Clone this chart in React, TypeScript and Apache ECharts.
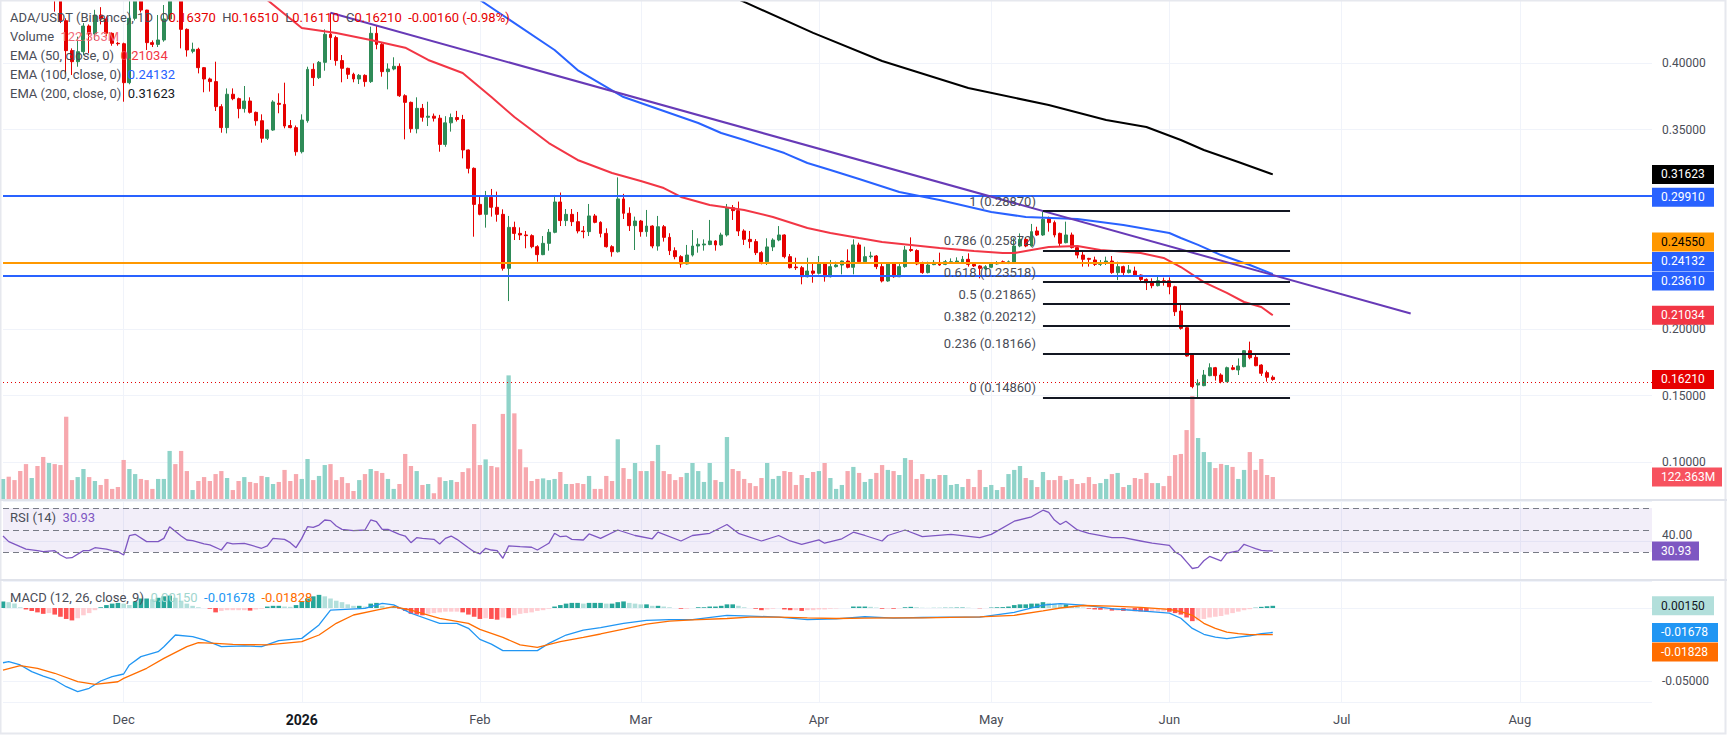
import { useEffect, useRef } from 'react';
import * as echarts from 'echarts';

// ---------- axis domain ----------
const START_UTC = Date.UTC(2025, 10, 10);
const DAY_COUNT = 288;
const CATEGORIES: string[] = Array.from({ length: DAY_COUNT }, (_, i) =>
  new Date(START_UTC + i * 86400000).toISOString().slice(0, 10)
);
const MONTH_TICKS: Record<string, string> = {
  '2025-12-01': 'Dec', '2026-01-01': '2026', '2026-02-01': 'Feb', '2026-03-01': 'Mar',
  '2026-04-01': 'Apr', '2026-05-01': 'May', '2026-06-01': 'Jun', '2026-07-01': 'Jul', '2026-08-01': 'Aug',
};

// ---------- daily candles from 2025-11-10: [open, high, low, close] ----------
const OHLC: number[][] = [
  [0.565, 0.595, 0.560, 0.585], [0.585, 0.595, 0.550, 0.555], [0.555, 0.562, 0.528, 0.535], [0.535, 0.545, 0.495, 0.505],
  [0.505, 0.515, 0.480, 0.490], [0.490, 0.510, 0.484, 0.500], [0.500, 0.505, 0.472, 0.480], [0.480, 0.488, 0.455, 0.465],
  [0.465, 0.480, 0.458, 0.472], [0.472, 0.478, 0.4386, 0.460], [0.460, 0.465, 0.4300, 0.4318], [0.4318, 0.4336, 0.3915, 0.4093],
  [0.4093, 0.4110, 0.3910, 0.4010], [0.4010, 0.4198, 0.3972, 0.4085], [0.4085, 0.4300, 0.4060, 0.4278], [0.4278, 0.4290, 0.4073, 0.4218],
  [0.4218, 0.4400, 0.4173, 0.4361], [0.4361, 0.4420, 0.4290, 0.4331], [0.4331, 0.4350, 0.4200, 0.4223], [0.4223, 0.4230, 0.4130, 0.4148],
  [0.4148, 0.4160, 0.4130, 0.4145], [0.4145, 0.4153, 0.3709, 0.3852], [0.3852, 0.4480, 0.3840, 0.4336], [0.4336, 0.4580, 0.4320, 0.4500],
  [0.4500, 0.4560, 0.4380, 0.4398], [0.4398, 0.4400, 0.4098, 0.4153], [0.4153, 0.4170, 0.4120, 0.4140], [0.4140, 0.4361, 0.4120, 0.4173],
  [0.4173, 0.4436, 0.4160, 0.4331], [0.4331, 0.4620, 0.4320, 0.4550], [0.4550, 0.4680, 0.4490, 0.4520], [0.4520, 0.4560, 0.4110, 0.4253],
  [0.4253, 0.4260, 0.4048, 0.4098], [0.4088, 0.4153, 0.4073, 0.4103], [0.4103, 0.4115, 0.3922, 0.3965], [0.3965, 0.3970, 0.3780, 0.3880],
  [0.3880, 0.3890, 0.3785, 0.3860], [0.3860, 0.4010, 0.3639, 0.3672], [0.3672, 0.3690, 0.3476, 0.3514], [0.3514, 0.3809, 0.3471, 0.3765],
  [0.3765, 0.3809, 0.3720, 0.3732], [0.3732, 0.3740, 0.3584, 0.3657], [0.3657, 0.3827, 0.3627, 0.3714], [0.3714, 0.3742, 0.3620, 0.3629],
  [0.3629, 0.3635, 0.3529, 0.3566], [0.3566, 0.3614, 0.3401, 0.3434], [0.3434, 0.3500, 0.3421, 0.3496], [0.3496, 0.3720, 0.3490, 0.3707],
  [0.3697, 0.3772, 0.3622, 0.3689], [0.3689, 0.3852, 0.3509, 0.3526], [0.3530, 0.3571, 0.3509, 0.3514], [0.3514, 0.3530, 0.3303, 0.3333],
  [0.3333, 0.3614, 0.3320, 0.3571], [0.3566, 0.3972, 0.3551, 0.3952], [0.3952, 0.3997, 0.3827, 0.3890], [0.3890, 0.4015, 0.3880, 0.4005],
  [0.4005, 0.4253, 0.3942, 0.4216], [0.4216, 0.4378, 0.4023, 0.4191], [0.4191, 0.4205, 0.3980, 0.4018], [0.4018, 0.4060, 0.3855, 0.3960],
  [0.3960, 0.3965, 0.3880, 0.3915], [0.3915, 0.3927, 0.3855, 0.3880], [0.3880, 0.3917, 0.3842, 0.3907], [0.3907, 0.3915, 0.3822, 0.3860],
  [0.3860, 0.4273, 0.3850, 0.4223], [0.4223, 0.4278, 0.4103, 0.4140], [0.4140, 0.4155, 0.3897, 0.3935], [0.3935, 0.3997, 0.3802, 0.3955],
  [0.3955, 0.4043, 0.3945, 0.3975], [0.3975, 0.3997, 0.3745, 0.3754], [0.3754, 0.3765, 0.3426, 0.3704], [0.3704, 0.3710, 0.3476, 0.3506],
  [0.3506, 0.3742, 0.3471, 0.3659], [0.3659, 0.3692, 0.3559, 0.3592], [0.3592, 0.3709, 0.3526, 0.3600], [0.3600, 0.3620, 0.3560, 0.3585],
  [0.3585, 0.3610, 0.3333, 0.3388], [0.3388, 0.3600, 0.3370, 0.3550], [0.3550, 0.3620, 0.3484, 0.3590], [0.3590, 0.3640, 0.3560, 0.3575],
  [0.3575, 0.3610, 0.3283, 0.3346], [0.3346, 0.3350, 0.3170, 0.3208], [0.3208, 0.3215, 0.2694, 0.2937], [0.2937, 0.2995, 0.2855, 0.2862],
  [0.2862, 0.3038, 0.2762, 0.2990], [0.2990, 0.3053, 0.2845, 0.2915], [0.2915, 0.3033, 0.2807, 0.2862], [0.2862, 0.2900, 0.2439, 0.2456],
  [0.2456, 0.2850, 0.2210, 0.2764], [0.2764, 0.2807, 0.2669, 0.2719], [0.2719, 0.2764, 0.2669, 0.2707], [0.2707, 0.2737, 0.2607, 0.2702],
  [0.2702, 0.2712, 0.2607, 0.2619], [0.2619, 0.2630, 0.2506, 0.2559], [0.2559, 0.2699, 0.2555, 0.2644], [0.2644, 0.2752, 0.2589, 0.2727],
  [0.2727, 0.3008, 0.2720, 0.2955], [0.2955, 0.3026, 0.2774, 0.2815], [0.2815, 0.2902, 0.2774, 0.2862], [0.2862, 0.2902, 0.2774, 0.2807],
  [0.2807, 0.2880, 0.2719, 0.2737], [0.2737, 0.2774, 0.2682, 0.2732], [0.2732, 0.2940, 0.2699, 0.2850], [0.2850, 0.2865, 0.2795, 0.2802],
  [0.2802, 0.2810, 0.2689, 0.2719], [0.2719, 0.2757, 0.2612, 0.2619], [0.2619, 0.2630, 0.2544, 0.2581], [0.2581, 0.3140, 0.2575, 0.2978],
  [0.2978, 0.3016, 0.2827, 0.2870], [0.2870, 0.2915, 0.2737, 0.2777], [0.2777, 0.2845, 0.2594, 0.2812], [0.2812, 0.2820, 0.2694, 0.2732],
  [0.2732, 0.2895, 0.2694, 0.2774], [0.2774, 0.2780, 0.2607, 0.2624], [0.2624, 0.2850, 0.2589, 0.2769], [0.2769, 0.2782, 0.2657, 0.2689],
  [0.2689, 0.2720, 0.2556, 0.2589], [0.2589, 0.2614, 0.2524, 0.2544], [0.2544, 0.2555, 0.2461, 0.2489], [0.2489, 0.2632, 0.2485, 0.2556],
  [0.2556, 0.2744, 0.2545, 0.2624], [0.2624, 0.2682, 0.2574, 0.2637], [0.2632, 0.2674, 0.2589, 0.2639], [0.2635, 0.2820, 0.2630, 0.2662],
  [0.2662, 0.2668, 0.2589, 0.2632], [0.2632, 0.2724, 0.2625, 0.2707], [0.2707, 0.2940, 0.2695, 0.2912], [0.2912, 0.2932, 0.2820, 0.2890],
  [0.2890, 0.2958, 0.2699, 0.2737], [0.2737, 0.2750, 0.2632, 0.2674], [0.2674, 0.2737, 0.2607, 0.2657], [0.2657, 0.2676, 0.2556, 0.2574],
  [0.2574, 0.2585, 0.2486, 0.2506], [0.2506, 0.2682, 0.2481, 0.2617], [0.2617, 0.2682, 0.2586, 0.2669], [0.2669, 0.2774, 0.2660, 0.2707],
  [0.2707, 0.2712, 0.2531, 0.2544], [0.2544, 0.2564, 0.2455, 0.2461], [0.2466, 0.2536, 0.2444, 0.2461], [0.2461, 0.2474, 0.2336, 0.2393],
  [0.2393, 0.2536, 0.2388, 0.2436], [0.2436, 0.2489, 0.2348, 0.2419], [0.2419, 0.2549, 0.2410, 0.2489], [0.2489, 0.2495, 0.2356, 0.2393],
  [0.2393, 0.2519, 0.2388, 0.2469], [0.2469, 0.2506, 0.2462, 0.2481], [0.2481, 0.2515, 0.2411, 0.2511], [0.2511, 0.2599, 0.2456, 0.2464],
  [0.2464, 0.2674, 0.2411, 0.2632], [0.2632, 0.2649, 0.2500, 0.2506], [0.2506, 0.2619, 0.2500, 0.2544], [0.2544, 0.2581, 0.2530, 0.2549],
  [0.2549, 0.2556, 0.2450, 0.2469], [0.2469, 0.2495, 0.2350, 0.2361], [0.2361, 0.2499, 0.2355, 0.2489], [0.2489, 0.2499, 0.2385, 0.2393],
  [0.2393, 0.2499, 0.2390, 0.2469], [0.2469, 0.2624, 0.2460, 0.2594], [0.2598, 0.2689, 0.2580, 0.2590], [0.2590, 0.2599, 0.2480, 0.2489],
  [0.2489, 0.2506, 0.2415, 0.2424], [0.2424, 0.2506, 0.2418, 0.2481], [0.2484, 0.2519, 0.2480, 0.2501], [0.2501, 0.2574, 0.2475, 0.2481],
  [0.2486, 0.2519, 0.2480, 0.2506], [0.2499, 0.2531, 0.2495, 0.2506], [0.2499, 0.2539, 0.2494, 0.2511], [0.2499, 0.2549, 0.2495, 0.2524],
  [0.2524, 0.2569, 0.2469, 0.2486], [0.2486, 0.2495, 0.2466, 0.2474], [0.2474, 0.2480, 0.2381, 0.2456], [0.2451, 0.2480, 0.2445, 0.2469],
  [0.2464, 0.2495, 0.2458, 0.2489], [0.2489, 0.2510, 0.2484, 0.2499], [0.2506, 0.2515, 0.2490, 0.2499], [0.2494, 0.2515, 0.2488, 0.2506],
  [0.2494, 0.2682, 0.2490, 0.2624], [0.2624, 0.2719, 0.2615, 0.2674], [0.2674, 0.2690, 0.2615, 0.2624], [0.2624, 0.2790, 0.2618, 0.2732],
  [0.2737, 0.2769, 0.2700, 0.2707], [0.2707, 0.2887, 0.2700, 0.2825], [0.2832, 0.2845, 0.2732, 0.2800], [0.2800, 0.2815, 0.2689, 0.2707],
  [0.2719, 0.2725, 0.2619, 0.2644], [0.2649, 0.2807, 0.2644, 0.2707], [0.2707, 0.2725, 0.2605, 0.2612], [0.2612, 0.2618, 0.2531, 0.2556],
  [0.2556, 0.2594, 0.2469, 0.2524], [0.2531, 0.2535, 0.2469, 0.2524], [0.2519, 0.2544, 0.2474, 0.2486], [0.2486, 0.2519, 0.2474, 0.2494],
  [0.2494, 0.2544, 0.2481, 0.2511], [0.2511, 0.2549, 0.2415, 0.2424], [0.2424, 0.2506, 0.2368, 0.2469], [0.2469, 0.2476, 0.2393, 0.2424],
  [0.2424, 0.2481, 0.2418, 0.2444], [0.2436, 0.2469, 0.2400, 0.2406], [0.2406, 0.2410, 0.2361, 0.2373], [0.2373, 0.2381, 0.2293, 0.2348],
  [0.2353, 0.2381, 0.2306, 0.2326], [0.2326, 0.2399, 0.2320, 0.2363], [0.2363, 0.2386, 0.2326, 0.2353], [0.2363, 0.2388, 0.2261, 0.2318],
  [0.2318, 0.2325, 0.2098, 0.2130], [0.2135, 0.2186, 0.1995, 0.2005], [0.2010, 0.2018, 0.1792, 0.1797], [0.1805, 0.1810, 0.1554, 0.1567],
  [0.1579, 0.1622, 0.1486, 0.1592], [0.1574, 0.1692, 0.1570, 0.1654], [0.1649, 0.1742, 0.1645, 0.1709], [0.1709, 0.1715, 0.1612, 0.1649],
  [0.1654, 0.1667, 0.1592, 0.1604], [0.1604, 0.1717, 0.1600, 0.1709], [0.1709, 0.1729, 0.1690, 0.1697], [0.1692, 0.1779, 0.1654, 0.1722],
  [0.1717, 0.1842, 0.1712, 0.1837], [0.1837, 0.1905, 0.1772, 0.1784], [0.1787, 0.1817, 0.1720, 0.1724], [0.1729, 0.1735, 0.1647, 0.1667],
  [0.1672, 0.1687, 0.1604, 0.1637], [0.1637, 0.1651, 0.1611, 0.1621],
];

// daily volume in millions of ADA
const VOLUME_M: number[] = [
  112, 124, 106, 154, 191, 117, 181, 229, 197, 191, 186, 443, 106, 122, 165, 122, 101, 80, 112, 59,
  69, 213, 165, 138, 112, 106, 59, 112, 112, 261, 191, 261, 154, 53, 101, 122, 101,
  138, 154, 117, 53, 101, 122, 96, 90, 128, 122, 85, 96, 160, 101, 138, 112, 218, 106, 128, 186,
  191, 106, 122, 90, 48, 106, 138, 165, 154, 144, 112, 59, 85, 245, 181, 154, 80, 85,
  36, 121, 101, 106, 96, 149, 169, 404, 186, 216, 181, 174, 458, 663, 461, 270, 174, 101, 112, 115,
  106, 112, 149, 85, 85, 90, 85, 128, 59, 59, 128, 101, 323, 170, 112, 197, 154,
  154, 207, 293, 154, 138, 106, 122, 144, 197, 154, 96, 197, 106, 96, 335, 165, 154, 112, 90, 74,
  117, 197, 112, 128, 154, 149, 80, 133, 117, 149, 154, 197, 117, 59, 80, 154, 176, 144,
  96, 112, 144, 186, 160, 154, 133, 223, 213, 112, 138, 112, 112, 133, 133, 80, 85, 69, 112, 69,
  160, 69, 80, 53, 69, 138, 160, 181, 117, 106, 69, 149, 106, 106, 128, 106,
  112, 85, 90, 122, 85, 90, 112, 138, 144, 69, 80, 117, 112, 144, 90, 90, 74, 128, 239, 245,
  372, 553, 330, 255, 202, 170, 192, 186, 176, 112, 160, 255, 160, 218, 133, 122.363,
];

// moving averages: [day offset from 2025-11-10, value]
const EMA50_PTS: number[][] = [
  [38, 0.468], [46, 0.4474], [52, 0.4263], [58, 0.4225], [64, 0.4173], [70, 0.4115], [74, 0.4023], [80, 0.3925],
  [85, 0.3744], [89, 0.3594], [95, 0.3398], [100, 0.3271], [106, 0.3173], [111, 0.3113], [115, 0.3060], [118, 0.2993],
  [123, 0.2932], [129, 0.2895], [134, 0.2842], [140, 0.2759], [144, 0.2722], [149, 0.2684], [153, 0.2654], [158, 0.2632],
  [163, 0.2609], [169, 0.2587], [174, 0.2571], [176, 0.2571], [179, 0.2594], [182, 0.2617], [187, 0.2624], [191, 0.2594],
  [198, 0.2571], [202, 0.2534], [205, 0.2466], [209, 0.2353], [213, 0.2271], [216, 0.2203], [219, 0.2165], [221, 0.21034],
];
const EMA100_PTS: number[][] = [
  [70, 0.488], [83, 0.4474], [96, 0.4098], [100, 0.3947], [108, 0.3744], [121, 0.3549], [125, 0.3474], [129, 0.3421],
  [136, 0.3323], [140, 0.3248], [144, 0.3196], [149, 0.3128], [156, 0.3030], [163, 0.2970], [172, 0.2880], [178, 0.2842],
  [187, 0.2827], [195, 0.2782], [203, 0.2722], [205, 0.2684], [208, 0.2632], [212, 0.2556], [217, 0.2481], [221, 0.24132],
];
const EMA200_PTS: number[][] = [
  [110, 0.483], [129, 0.4459], [141, 0.4226], [153, 0.4015], [168, 0.3812], [182, 0.3684], [192, 0.3571], [199, 0.3519],
  [205, 0.3421], [209, 0.3346], [215, 0.3256], [221, 0.31623],
];

// drawings
const TRENDLINE: [string, number][] = [['2026-01-06', 0.4378], ['2026-07-13', 0.2117]];
const LEVELS = [
  { value: 0.2991, color: '#2962ff', textColor: '#ffffff' },
  { value: 0.2455, color: '#ff9800', textColor: '#000000' },
  { value: 0.2361, color: '#2962ff', textColor: '#ffffff' },
];
const FIB_FROM = '2026-05-10';
const FIB_TO = '2026-06-22';
const FIB_LEVELS: [string, number][] = [
  ['1', 0.2887], ['0.786', 0.25872], ['0.618', 0.23518], ['0.5', 0.21865], ['0.382', 0.20212], ['0.236', 0.18166], ['0', 0.1486],
];

// RSI(14) points [day offset, value]
const RSI_PTS: number[][] = [
  [0, 44.5], [1, 39.4], [3, 34.8], [4, 32.7], [6, 31.2], [7, 30.3], [9, 31.2], [10, 27.3], [11, 24.5], [12, 24.8],
  [14, 31.2], [15, 31.2], [16, 33.9], [18, 32.7], [19, 31.2], [20, 30.3], [21, 27.3], [22, 44.8], [23, 46.1], [25, 39.4],
  [27, 39.4], [28, 42.4], [29, 53], [31, 44.5], [32, 40.9], [33, 40.3], [35, 37.3], [36, 36.4], [38, 31.8], [39, 38.5],
  [40, 37.3], [42, 37.9], [43, 36.4], [45, 33.4], [46, 35.5], [47, 42.4], [49, 41.5], [50, 38.5], [51, 33.9], [52, 42.4],
  [53, 53], [54, 52.4], [55, 54.5], [56, 59.1], [57, 58.5], [58, 53.6], [59, 50.6], [61, 49.4], [63, 50], [64, 59.1],
  [65, 57.5], [66, 50.6], [67, 50.6], [69, 46.1], [70, 44.5], [71, 38.5], [72, 43], [73, 42.4], [75, 41.5], [76, 37.3],
  [77, 42.4], [78, 44.5], [79, 41.5], [81, 33.9], [82, 30.3], [83, 28.2], [84, 33.4], [85, 31.8], [86, 31.2], [87, 24.3],
  [88, 35.5], [90, 34.8], [92, 34.3], [93, 31.8], [95, 37.9], [96, 47], [97, 43.9], [98, 44.5], [99, 41.5], [101, 40.9],
  [102, 46.4], [104, 42.4], [107, 50], [110, 45], [113, 42], [114, 48], [118, 40], [120, 45], [123, 47], [126, 55],
  [128, 47], [132, 40], [135, 45], [137, 40], [139, 37], [142, 41], [143, 38], [146, 42], [148, 48], [150, 45],
  [153, 40], [154, 45], [157, 50], [160, 44], [165, 46], [170, 43], [172, 46], [176, 58], [179, 62], [181, 68],
  [182, 66], [183, 59], [184, 55], [185, 58], [187, 50], [189, 47], [193, 43], [195, 43], [198, 40], [200, 38],
  [203, 36], [204, 30], [205, 27], [206, 21], [207, 15], [208, 16], [209, 22], [210, 26], [211, 24], [212, 22],
  [213, 29], [215, 31], [216, 37], [217, 35], [218, 33], [219, 31.5], [220, 31], [221, 30.93],
];

// MACD(12, 26, 9) lines [day offset, value]
const MACD_PTS: number[][] = [
  [0, -0.0375], [1, -0.0368], [3, -0.0390], [5, -0.0436], [7, -0.0466], [9, -0.0493], [11, -0.0539], [13, -0.0573],
  [15, -0.0550], [17, -0.0500], [19, -0.0470], [21, -0.0452], [22, -0.0390], [24, -0.0333], [27, -0.0299], [28, -0.0265],
  [30, -0.0185], [33, -0.0196], [35, -0.0219], [38, -0.0265], [42, -0.0260], [45, -0.0265], [48, -0.0224], [52, -0.0208],
  [55, -0.0116], [57, -0.0014], [63, -0.0002], [66, 0.0032], [68, 0.0021], [71, -0.0036], [76, -0.0105], [79, -0.0105],
  [81, -0.0139], [83, -0.0215], [85, -0.0247], [87, -0.0292], [93, -0.0292], [95, -0.0242], [98, -0.0185], [101, -0.0151],
  [104, -0.0135], [108, -0.0105], [112, -0.0085], [116, -0.0080], [120, -0.0080], [126, -0.0050], [130, -0.0055], [135, -0.0062],
  [140, -0.0080], [145, -0.0075], [150, -0.0060], [155, -0.0070], [160, -0.0065], [165, -0.0062], [170, -0.0062], [176, -0.0030],
  [181, 0.0020], [184, 0.0030], [188, 0.0020], [193, -0.0005], [198, -0.0020], [203, -0.0035], [205, -0.0070], [207, -0.0140],
  [209, -0.0180], [211, -0.0200], [213, -0.0210], [215, -0.0200], [217, -0.0190], [219, -0.0175], [221, -0.01678],
];
const SIGNAL_PTS: number[][] = [
  [0, -0.0425], [3, -0.0395], [6, -0.0413], [9, -0.0447], [13, -0.0505], [16, -0.0523], [20, -0.0505], [21, -0.0482],
  [25, -0.0413], [28, -0.0345], [32, -0.0265], [34, -0.0237], [37, -0.0242], [40, -0.0249], [46, -0.0253], [52, -0.0231],
  [55, -0.0185], [58, -0.0105], [61, -0.0048], [65, -0.0014], [68, 0.0009], [71, -0.0014], [76, -0.0071], [81, -0.0105],
  [83, -0.0146], [87, -0.0201], [90, -0.0253], [93, -0.0269], [97, -0.0231], [101, -0.0201], [104, -0.0178], [108, -0.0145],
  [112, -0.0110], [116, -0.0090], [120, -0.0082], [126, -0.0072], [130, -0.0062], [135, -0.0062], [140, -0.0068], [145, -0.0072],
  [150, -0.0070], [155, -0.0068], [160, -0.0067], [165, -0.0064], [170, -0.0061], [176, -0.0050], [181, -0.0020], [184, 0.0000],
  [188, 0.0017], [193, 0.0013], [198, 0.0004], [203, -0.0009], [205, -0.0025], [207, -0.0050], [209, -0.0105], [211, -0.0140],
  [213, -0.0165], [215, -0.0175], [217, -0.0182], [219, -0.0183], [221, -0.01828],
];
// MACD histogram, one bar per day, in thousandths
const HIST_E3: number[] = [
  4.5, 4.0, 3.0, 0.5, -1, -2, -3, -4, -3.5, -4.5, -6, -7.5, -8.5, -7, -5, -3.5, -1.5, 0.5, 2, 3,
  3.5, 3, 2, 4.5, 6.5, 6.5, 6, 7, 8, 8.5, 7, 5, 3, 1.5, 0.5, 0, -0.5, -3, -2, -1.5,
  -1.5, -1.5, -1.5, -1.8, -1, -0.5, 1, 1.5, 1.5, 1, 0.8, 2, 4.5, 6.5, 8, 9, 8, 6.5, 5, 4,
  2.5, 1.5, 1.5, 1, 3, 3.5, 1.5, 0.5, 0.5, -0.5, -2, -4, -4.5, -5, -4, -3.5, -3, -2.5, -2.5, -2.5,
  -3, -4.5, -6, -7.5, -7, -7.5, -8, -6.5, -7, -5, -4, -3.5, -3, -2, -1.5, -0.5, 1, 2, 3, 3.5,
  3.5, 3, 3.5, 3.5, 3.5, 3, 3, 4, 4.5, 3.5, 3, 2.5, 2.5, 1.5, 1.5, 1, 0.5, 0, -0.5, -0.5,
  0, 0.5, 0.5, 1, 1, 1.5, 2.5, 2.5, 1.5, 0.5, 0, -0.5, -1.5, -1, -0.5, 0, -1, -1.5, -1.5, -2,
  -1.5, -1.5, -1, -1, -0.5, -0.3, 0, 0, 1, 1, 1, 0.8, 0.3, -0.5, -0.3, -0.5, -0.2, 0.5, 0.8, 0.5,
  0.2, 0.1, 0.1, 0.1, 0.2, 0.2, 0.3, 0.3, 0.2, 0, -0.2, 0, 0.3, 0.5, 0.6, 1, 2, 2.5, 2.5, 3,
  3, 4, 3.5, 3, 2.5, 2.5, 1.5, 0.8, 0.3, -0.5, -1, -1.2, -1.2, -1.8, -1.8, -2, -2, -2.2, -2.4, -2.6,
  -2.6, -2.4, -2.4, -2.6, -3.5, -4.5, -6.5, -9, -8.5, -7.5, -6.5, -6, -5.5, -4.5, -3.5, -2.5, -1.5, -0.8, 0.2, 0.8,
  1.2, 1.5,
];

// ---------- style ----------
const FONT = 'Roboto, "Noto Sans", "DejaVu Sans", sans-serif';
const UP = '#2e8b57';
const DOWN = '#e60000';
const VOL_UP = '#8fd3c9';
const VOL_DOWN = '#f7a8ae';
const GRID_LINE = '#f0f3fa';
const TEXT_GRAY = '#4a4d57';
const PLOT_LEFT = 3;
const PLOT_RIGHT = 75;

const sparse = (pts: number[][]) => {
  const arr: (number | null)[] = new Array(DAY_COUNT).fill(null);
  pts.forEach(([d, v]) => { arr[d] = v; });
  return arr;
};
const isMonth = (_: number, v: string) => v in MONTH_TICKS;
const lastOf = (pts: number[][]) => pts[pts.length - 1][1];

function xAxis(gridIndex: number, labels: boolean) {
  return {
    type: 'category', gridIndex, data: CATEGORIES, boundaryGap: false,
    axisLine: { show: false }, axisTick: { show: false },
    axisLabel: labels ? {
      interval: isMonth, color: TEXT_GRAY, fontSize: 13, margin: 11, fontFamily: FONT,
      formatter: (v: string) => (v === '2026-01-01' ? '{y|2026}' : MONTH_TICKS[v] || ''),
      rich: { y: { fontWeight: 'bold', fontSize: 14, color: '#131722', fontFamily: FONT } },
    } : { show: false },
    splitLine: { show: true, interval: isMonth, lineStyle: { color: GRID_LINE, width: 1 } },
  };
}
const onStep = (v: number, step: number) => Math.abs(v / step - Math.round(v / step)) < 1e-6;

function buildOption() {
  const candles = OHLC.map(([o, h, l, c]) => [o, c, l, h]);
  const vol = VOLUME_M.map((v, i) => ({
    value: v, itemStyle: { color: OHLC[i][3] >= OHLC[i][0] ? VOL_UP : VOL_DOWN },
  }));
  const hist = HIST_E3.map((v, i) => {
    const prev = i > 0 ? HIST_E3[i - 1] : v;
    const color = v >= 0 ? (v >= prev ? '#26a69a' : '#b2dfdb') : (v < prev ? '#ff5252' : '#ffcdd2');
    return { value: v / 1000, itemStyle: { color } };
  });
  const lastClose = OHLC[OHLC.length - 1][3];

  const levelLines = LEVELS.map((l) => ({ yAxis: l.value, lineStyle: { color: l.color, width: 2, type: 'solid' } }));
  const fibLines = FIB_LEVELS.map(([, v]) => [
    { coord: [FIB_FROM, v], lineStyle: { color: '#131722', width: 2, type: 'solid' } },
    { coord: [FIB_TO, v] },
  ]);

  return {
    animation: false,
    backgroundColor: '#ffffff',
    textStyle: { fontFamily: FONT },
    grid: [
      { left: PLOT_LEFT, right: PLOT_RIGHT, top: 0, height: 500 },
      { left: PLOT_LEFT, right: PLOT_RIGHT, top: 0, height: 500 },
      { left: PLOT_LEFT, right: PLOT_RIGHT, top: 501, height: 78 },
      { left: PLOT_LEFT, right: PLOT_RIGHT, top: 581, height: 121 },
    ],
    xAxis: [xAxis(0, false), { ...xAxis(1, false), splitLine: { show: false } }, xAxis(2, false), xAxis(3, true)],
    yAxis: [
      {
        type: 'value', gridIndex: 0, position: 'right', min: 0.07143, max: 0.44737, splitNumber: 8,
        minInterval: 0.05, maxInterval: 0.05, axisLine: { show: false }, axisTick: { show: false },
        axisLabel: { color: TEXT_GRAY, fontSize: 12, margin: 10, fontFamily: FONT,
          formatter: (v: number) => (onStep(v, 0.05) ? v.toFixed(5) : '') },
        splitLine: { lineStyle: { color: GRID_LINE } },
      },
      { type: 'value', gridIndex: 1, min: 0, max: 2660, show: false, splitLine: { show: false } },
      {
        type: 'value', gridIndex: 2, position: 'right', min: 5.45, max: 76.36, minInterval: 40, maxInterval: 40,
        axisLine: { show: false }, axisTick: { show: false },
        axisLabel: { color: TEXT_GRAY, fontSize: 12, margin: 10, fontFamily: FONT, verticalAlign: 'bottom',
          formatter: (v: number) => (Math.abs(v - 40) < 1e-6 ? '40.00' : '') },
        splitLine: { lineStyle: { color: GRID_LINE } },
      },
      {
        type: 'value', gridIndex: 3, position: 'right', min: -0.064384, max: 0.018493,
        minInterval: 0.05, maxInterval: 0.05, axisLine: { show: false }, axisTick: { show: false },
        axisLabel: { color: TEXT_GRAY, fontSize: 12, margin: 10, fontFamily: FONT,
          formatter: (v: number) => (onStep(v, 0.05) && Math.abs(v) > 1e-9 ? v.toFixed(5) : '') },
        splitLine: { lineStyle: { color: GRID_LINE } },
      },
    ],
    series: [
      { type: 'bar', xAxisIndex: 1, yAxisIndex: 1, data: vol, barWidth: 4.3, silent: true },
      {
        type: 'candlestick', xAxisIndex: 0, yAxisIndex: 0, data: candles, barWidth: 3.4, clip: true, silent: true,
        itemStyle: { color: UP, color0: DOWN, borderColor: UP, borderColor0: DOWN, borderWidth: 1 },
        markLine: {
          silent: true, symbol: ['none', 'none'], label: { show: false }, animation: false,
          data: [
            ...levelLines,
            { yAxis: lastClose, lineStyle: { color: DOWN, width: 1, type: [1, 3] } },
            [
              { coord: TRENDLINE[0], lineStyle: { color: '#673ab7', width: 2, type: 'solid' } },
              { coord: TRENDLINE[1] },
            ],
            ...fibLines,
          ],
        },
      },
      { type: 'line', xAxisIndex: 0, yAxisIndex: 0, data: sparse(EMA50_PTS), connectNulls: true, showSymbol: false, silent: true, lineStyle: { color: '#f23645', width: 2 } },
      { type: 'line', xAxisIndex: 0, yAxisIndex: 0, data: sparse(EMA100_PTS), connectNulls: true, showSymbol: false, silent: true, lineStyle: { color: '#2962ff', width: 2 } },
      { type: 'line', xAxisIndex: 0, yAxisIndex: 0, data: sparse(EMA200_PTS), connectNulls: true, showSymbol: false, silent: true, lineStyle: { color: '#000000', width: 2 } },
      {
        type: 'line', xAxisIndex: 2, yAxisIndex: 2, data: sparse(RSI_PTS), connectNulls: true, showSymbol: false, silent: true,
        lineStyle: { color: '#7e57c2', width: 1.3 },
        markArea: { silent: true, itemStyle: { color: 'rgba(126,87,194,0.1)' }, data: [[{ yAxis: 70 }, { yAxis: 30 }]] },
        markLine: {
          silent: true, symbol: ['none', 'none'], label: { show: false },
          lineStyle: { color: '#787b86', width: 1, type: [6, 4] },
          data: [{ yAxis: 70 }, { yAxis: 50 }, { yAxis: 30 }],
        },
      },
      { type: 'bar', xAxisIndex: 3, yAxisIndex: 3, data: hist, barWidth: 4.6, silent: true },
      { type: 'line', xAxisIndex: 3, yAxisIndex: 3, data: sparse(MACD_PTS), connectNulls: true, showSymbol: false, silent: true, lineStyle: { color: '#2196f3', width: 1.3 } },
      { type: 'line', xAxisIndex: 3, yAxisIndex: 3, data: sparse(SIGNAL_PTS), connectNulls: true, showSymbol: false, silent: true, lineStyle: { color: '#ff6d00', width: 1.3 } },
    ],
  };
}

type Tag = { y: number; text: string; bg: string; fg: string; w: number };

function buildGraphics(chart: echarts.ECharts) {
  const yPx = (axis: number, v: number) => chart.convertToPixel({ yAxisIndex: axis }, v) as number;
  const xPx = (d: string) => chart.convertToPixel({ xAxisIndex: 0 }, d) as number;
  const last = OHLC[OHLC.length - 1];
  const prevClose = OHLC[OHLC.length - 2][3];
  const chg = last[3] - prevClose;
  const chgPct = (chg / prevClose) * 100;
  const ema50 = lastOf(EMA50_PTS), ema100 = lastOf(EMA100_PTS), ema200 = lastOf(EMA200_PTS);
  const rsi = lastOf(RSI_PTS), macd = lastOf(MACD_PTS), signal = lastOf(SIGNAL_PTS);
  const histLast = HIST_E3[HIST_E3.length - 1] / 1000;
  const volLast = VOLUME_M[VOLUME_M.length - 1];
  const els: any[] = [];

  // frame and pane separators
  els.push({ type: 'rect', silent: true, z: 40, shape: { x: 0.5, y: 0.5, width: 1725, height: 733 }, style: { fill: 'none', stroke: '#e6e8ee', lineWidth: 2 } });
  [500, 580].forEach((y) => els.push({ type: 'line', silent: true, z: 40, shape: { x1: 0, y1: y, x2: 1727, y2: y }, style: { stroke: '#e0e3eb', lineWidth: 2 } }));

  // legends
  const legend = (y: number, text: string, rich: any) => ({
    type: 'text', x: 10, y, silent: true, z: 50,
    style: { text, rich, fontSize: 13, fontFamily: FONT, fill: TEXT_GRAY, verticalAlign: 'middle' },
  });
  const r = (fill: string) => ({ fill, fontSize: 13, fontFamily: FONT });
  const f5 = (v: number) => v.toFixed(5);
  els.push(legend(17,
    `{t|ADA/USDT (Binance), 1D}  {t|O}{v|${f5(last[0])}}  {t|H}{v|${f5(last[1])}}  {t|L}{v|${f5(last[2])}}  {t|C}{v|${f5(last[3])}}  {v|${f5(chg)} (${chgPct.toFixed(2)}%)}`,
    { t: r(TEXT_GRAY), v: r(DOWN) }));
  els.push(legend(36, `{t|Volume}  {v|${volLast.toFixed(3)}M}`, { t: r(TEXT_GRAY), v: r('#f26d7a') }));
  els.push(legend(55, `{t|EMA (50, close, 0)}  {v|${f5(ema50)}}`, { t: r(TEXT_GRAY), v: r('#f23645') }));
  els.push(legend(74, `{t|EMA (100, close, 0)}  {v|${f5(ema100)}}`, { t: r(TEXT_GRAY), v: r('#2962ff') }));
  els.push(legend(93, `{t|EMA (200, close, 0)}  {v|${f5(ema200)}}`, { t: r(TEXT_GRAY), v: r('#131722') }));
  els.push(legend(517, `{t|RSI (14)}  {v|${rsi.toFixed(2)}}`, { t: r(TEXT_GRAY), v: r('#7e57c2') }));
  els.push(legend(597, `{t|MACD (12, 26, close, 9)}  {h|${f5(histLast)}}  {m|${f5(macd)}}  {s|${f5(signal)}}`,
    { t: r(TEXT_GRAY), h: r('#9fd6ce'), m: r('#2196f3'), s: r('#ff6d00') }));

  // fib labels
  const fibX = xPx(FIB_FROM) - 7;
  FIB_LEVELS.forEach(([name, v]) => els.push({
    type: 'text', x: fibX, y: yPx(0, v) - 10, silent: true, z: 50,
    style: { text: `${name} (${f5(v)})`, fontSize: 13, fontFamily: FONT, fill: TEXT_GRAY, align: 'right', verticalAlign: 'middle' },
  }));

  // price-scale tags
  const H = 19.5;
  const priceTags: Tag[] = [
    { y: yPx(0, ema200), text: f5(ema200), bg: '#000000', fg: '#ffffff', w: 62 },
    ...LEVELS.map((l) => ({ y: yPx(0, l.value), text: f5(l.value), bg: l.color, fg: l.textColor, w: 62 })),
    { y: yPx(0, ema100), text: f5(ema100), bg: '#2962ff', fg: '#ffffff', w: 62 },
    { y: yPx(0, ema50), text: f5(ema50), bg: '#f23645', fg: '#ffffff', w: 62 },
    { y: yPx(0, last[3]), text: f5(last[3]), bg: DOWN, fg: '#ffffff', w: 62 },
  ];
  const up = [...priceTags].sort((a, b) => b.y - a.y);
  for (let k = 1; k < up.length; k++) if (up[k].y > up[k - 1].y - H) up[k].y = up[k - 1].y - H;
  const macdTags: Tag[] = [
    { y: yPx(3, histLast), text: f5(histLast), bg: '#b2dfdb', fg: '#131722', w: 62 },
    { y: yPx(3, macd), text: f5(macd), bg: '#2196f3', fg: '#ffffff', w: 66 },
    { y: yPx(3, signal), text: f5(signal), bg: '#ff6d00', fg: '#ffffff', w: 66 },
  ];
  const down = [...macdTags].sort((a, b) => a.y - b.y);
  for (let k = 1; k < down.length; k++) if (down[k].y < down[k - 1].y + H) down[k].y = down[k - 1].y + H;
  const otherTags: Tag[] = [
    { y: yPx(1, volLast), text: `${volLast.toFixed(3)}M`, bg: '#f7525f', fg: '#ffffff', w: 70 },
    { y: yPx(2, rsi), text: rsi.toFixed(2), bg: '#7e57c2', fg: '#ffffff', w: 47 },
  ];
  [...priceTags, ...macdTags, ...otherTags].forEach((t) => {
    els.push({ type: 'rect', silent: true, z: 60, shape: { x: 1652, y: t.y - 9.5, width: t.w, height: 19 }, style: { fill: t.bg } });
    els.push({ type: 'text', silent: true, z: 61, x: 1661, y: t.y, style: { text: t.text, fill: t.fg, fontSize: 12, fontFamily: FONT, verticalAlign: 'middle' } });
  });
  return els;
}

export default function App() {
  const ref = useRef<HTMLDivElement>(null);
  useEffect(() => {
    document.body.style.margin = '0';
    const chart = echarts.init(ref.current as HTMLDivElement, null, { renderer: 'svg' });
    chart.setOption(buildOption() as any);
    chart.setOption({ graphic: { elements: buildGraphics(chart) } } as any);
    return () => chart.dispose();
  }, []);
  return <div ref={ref} style={{ width: 1727, height: 735 }} />;
}
